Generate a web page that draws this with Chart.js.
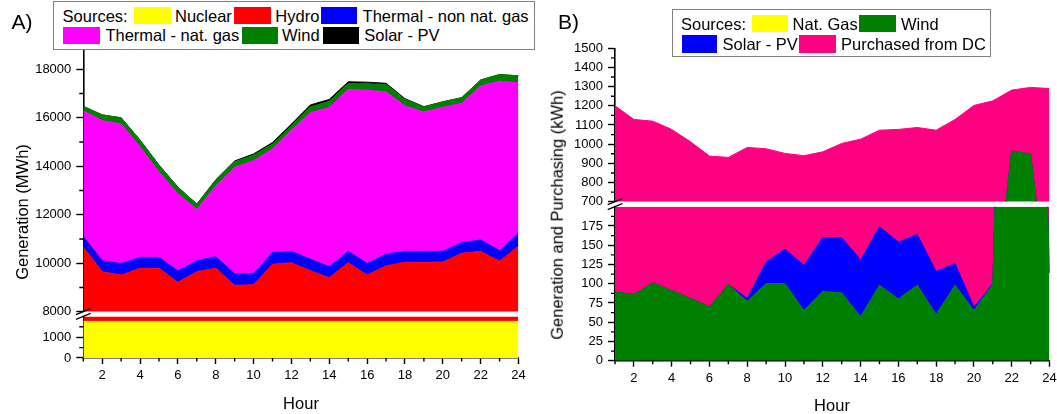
<!DOCTYPE html>
<html><head><meta charset="utf-8"><title>Generation and purchasing</title>
<script src="https://cdn.jsdelivr.net/npm/chart.js@4.4.1/dist/chart.umd.min.js"></script>
<style>
html,body{margin:0;padding:0;background:#fff;}
#wrap{position:relative;width:1057px;height:414px;overflow:hidden;font-family:'Liberation Sans',Arial,sans-serif;color:#000;}
#wrap canvas{position:absolute;}
.t{position:absolute;white-space:nowrap;line-height:1;font-size:16.5px;}
.sw{position:absolute;}
.box{position:absolute;border:1px solid #808080;background:#fff;box-sizing:border-box;}
.rot{position:absolute;white-space:nowrap;line-height:1;font-size:16.5px;transform:translate(-50%,-50%) rotate(-90deg);}
</style></head><body>
<div id="wrap">
<canvas id="aUp" width="530" height="320" style="left:0;top:0;width:530px;height:320px"></canvas>
<canvas id="aLo" width="530" height="114" style="left:0;top:300px;width:530px;height:114px"></canvas>
<canvas id="bUp" width="527" height="215" style="left:530px;top:0;width:527px;height:215px"></canvas>
<canvas id="bLo" width="527" height="224" style="left:530px;top:190px;width:527px;height:224px"></canvas>

<div class="t" style="left:11.5px;top:10.5px;font-size:21px">A)</div>
<div class="t" style="left:558px;top:10.5px;font-size:21px">B)</div>

<div class="box" style="left:53px;top:1px;width:482px;height:49px"></div>
<div class="t" style="left:62.6px;top:7.6px">Sources:</div>
<div class="sw" style="left:134.3px;top:7.3px;width:36.7px;height:16.7px;background:#FFFF00"></div>
<div class="t" style="left:175px;top:7.6px">Nuclear</div>
<div class="sw" style="left:234.3px;top:7.3px;width:36.7px;height:16.7px;background:#FF0000"></div>
<div class="t" style="left:275.3px;top:7.6px">Hydro</div>
<div class="sw" style="left:320.7px;top:7.3px;width:36.7px;height:16.7px;background:#0000FF"></div>
<div class="t" style="left:362.6px;top:7.6px">Thermal - non nat. gas</div>
<div class="sw" style="left:63.3px;top:26.7px;width:36.7px;height:17.3px;background:#FF00FF"></div>
<div class="t" style="left:105.4px;top:27.2px">Thermal - nat. gas</div>
<div class="sw" style="left:241.7px;top:26.7px;width:36.7px;height:17.3px;background:#008000"></div>
<div class="t" style="left:282px;top:27.2px">Wind</div>
<div class="sw" style="left:323.3px;top:26.7px;width:36px;height:17.3px;background:#000000"></div>
<div class="t" style="left:364.3px;top:27.2px">Solar - PV</div>

<div class="box" style="left:671.5px;top:9.3px;width:319px;height:48px"></div>
<div class="t" style="left:681px;top:15.6px">Sources:</div>
<div class="sw" style="left:751.7px;top:15px;width:36px;height:17.3px;background:#FFFF00"></div>
<div class="t" style="left:792.6px;top:15.6px">Nat. Gas</div>
<div class="sw" style="left:859px;top:15px;width:37px;height:17.3px;background:#008000"></div>
<div class="t" style="left:901px;top:15.6px">Wind</div>
<div class="sw" style="left:681.7px;top:35px;width:35.6px;height:18.3px;background:#0000FF"></div>
<div class="t" style="left:722.6px;top:36.1px">Solar - PV</div>
<div class="sw" style="left:799px;top:35px;width:37px;height:18.3px;background:#FF0080"></div>
<div class="t" style="left:841px;top:36.1px">Purchased from DC</div>

<div class="rot" style="left:21.7px;top:211.7px">Generation (MWh)</div>
<div class="rot" style="left:557px;top:215px">Generation and Purchasing (kWh)</div>
<div class="t" style="left:301px;top:394.9px;transform:translateX(-50%)">Hour</div>
<div class="t" style="left:832px;top:397.4px;transform:translateX(-50%)">Hour</div>
</div>
<script>
// ---------- data ----------
const hours = [1,2,3,4,5,6,7,8,9,10,11,12,13,14,15,16,17,18,19,20,21,22,23,24];
const xTickLabels = [2,4,6,8,10,12,14,16,18,20,22,24];
const xMinorTicks = [1,3,5,7,9,11,13,15,17,19,21,23];

// Panel A (MWh)
const nuclearA      = [1760,1760,1760,1760,1760,1760,1760,1760,1760,1760,1760,1760,1760,1760,1760,1760,1760,1760,1760,1760,1760,1760,1760,1760];
const hydroA        = [8900,7890,7750,8030,8030,7450,7890,8030,7330,7350,8200,8260,7930,7640,8260,7750,8130,8280,8280,8290,8650,8730,8320,8950];
const thermalOtherA = [440,450,480,450,450,470,450,480,470,470,480,470,470,450,470,480,480,450,450,440,440,470,440,520];
const thermalGasA   = [5190,5780,5750,4560,3530,3180,2120,2920,4400,4650,4270,5000,6050,6580,6680,7150,6700,6000,5750,5940,5750,6350,6990,6210];
const windA         = [180,240,260,280,280,280,220,240,230,230,210,180,240,250,245,270,305,270,210,230,230,250,275,290];
const solarA        = [0,0,0,0,0,0,0,10,30,50,60,70,80,80,70,60,50,30,10,0,0,0,0,0];

const yTicksAUpper = [8000,10000,12000,14000,16000,18000];
const yMinorAUpper = [9000,11000,13000,15000,17000];
const yTicksALower = [0,1000];
const yMinorALower = [500,1500];

// Panel B (kWh)
const natGasB    = [0,0,0,0,0,0,0,0,0,0,0,0,0,0,0,0,0,0,0,0,0,0,0,0];
const windB      = [89,86,101,91,81,70,99,77,100,100,65,90,88,57,98,80,98,60,98,65,99,964,948,114];
const solarB     = [0,0,0,0,0,0,0,4,28,45,59,70,72,74,76,74,66,56,28,5,1,0,0,0];
const purchasedB = [1111,1043,1019,986,931,868,832,902,848,807,816,800,844,895,899,923,923,957,1003,1132,1126,318,348,1176];

const yTicksBUpper = [700,800,900,1000,1100,1200,1300,1400,1500];
const yMinorBUpper = [750,850,950,1050,1150,1250,1350,1450];
const yTicksBLower = [0,25,50,75,100,125,150,175];
const yMinorBLower = [12.5,37.5,62.5,87.5,112.5,137.5,162.5,187.5];

// ---------- helpers ----------
const FONT = "'Liberation Sans', Arial, sans-serif";
Chart.defaults.font.family = FONT;

function area(label, data, color, first, bw) {
  return {label, data, backgroundColor: color, borderColor: color,
    borderWidth: bw === undefined ? 1 : bw, fill: first ? 'origin' : '-1',
    pointRadius: 0, tension: 0};
}
function datasetsA() {
  return [
    area('Nuclear', nuclearA, '#FFFF00', true),
    area('Hydro', hydroA, '#FF0000'),
    area('Thermal - non nat. gas', thermalOtherA, '#0000FF'),
    area('Thermal - nat. gas', thermalGasA, '#FF00FF'),
    area('Wind', windA, '#008000'),
    area('Solar - PV', solarA, '#000000')
  ];
}
function datasetsB() {
  return [
    area('Nat. Gas', natGasB, '#FFFF00', true, 0),
    area('Wind', windB, '#008000'),
    area('Solar - PV', solarB, '#0000FF'),
    area('Purchased from DC', purchasedB, '#FF0080')
  ];
}
const plain = v => String(v);
function yScale(min, max, ticks, width) {
  return {
    type: 'linear', min, max, stacked: true,
    afterBuildTicks: s => { s.ticks = ticks.map(v => ({value: v})); },
    afterFit: s => { s.width = width; s.paddingTop = 0; s.paddingBottom = 0; },
    border: {display: true, color: '#000', width: 1.6},
    grid: {display: true, drawOnChartArea: false, drawTicks: true, tickLength: 7, tickWidth: 1.4, tickColor: '#000'},
    ticks: {color: '#000', font: {family: FONT, size: 13}, padding: 5, autoSkip: false, callback: plain}
  };
}
function xScale(show, height) {
  return {
    type: 'linear', min: 1, max: 24, display: show,
    afterBuildTicks: s => { s.ticks = xTickLabels.map(v => ({value: v})); },
    afterFit: s => { if (show) s.height = height; s.paddingLeft = 0; s.paddingRight = 0; },
    border: {display: true, color: '#000', width: 1.6},
    grid: {display: true, drawOnChartArea: false, drawTicks: true, tickLength: 6, tickWidth: 1.4, tickColor: '#000'},
    ticks: {color: '#000', font: {family: FONT, size: 13}, padding: 4, autoSkip: false, maxRotation: 0, minRotation: 0, callback: plain}
  };
}
const axisDeco = {
  id: 'axisDeco',
  afterDraw(chart, args, o) {
    const ctx = chart.ctx, ca = chart.chartArea;
    const xs = chart.scales.x, ys = chart.scales.y;
    ctx.save();
    ctx.strokeStyle = '#000'; ctx.lineWidth = 1.4;
    ctx.beginPath();
    (o.yMinor || []).forEach(v => { const p = ys.getPixelForValue(v); ctx.moveTo(ca.left - 4, p); ctx.lineTo(ca.left, p); });
    (o.xMinor || []).forEach(v => { const p = xs.getPixelForValue(v); ctx.moveTo(p, ca.bottom); ctx.lineTo(p, ca.bottom + 3.5); });
    ctx.stroke();
    if (o.gap) {
      ctx.lineWidth = 1.3;
      ctx.beginPath();
      [ca.top - o.gap, ca.top].forEach(y => { ctx.moveTo(ca.left - 7.3, y + 3); ctx.lineTo(ca.left + 7.3, y - 3); });
      ctx.stroke();
    }
    ctx.restore();
  }
};
function make(id, datasets, x, y, padding, deco) {
  return new Chart(document.getElementById(id), {
    type: 'line',
    data: {labels: hours, datasets},
    options: {
      responsive: false, animation: false, devicePixelRatio: 1, events: [],
      layout: {padding},
      scales: {x, y},
      plugins: {legend: {display: false}, tooltip: {enabled: false}, title: {display: false}, axisDeco: deco}
    },
    plugins: [axisDeco]
  });
}

// Panel A
make('aUp', datasetsA(), xScale(false), yScale(8000, 19000, yTicksAUpper, 83.3),
  {left: 0, top: 45.1, right: 11.5, bottom: 8.3}, {yMinor: yMinorAUpper});
make('aLo', datasetsA(), xScale(true, 56), yScale(0, 2000, yTicksALower, 83.3),
  {left: 0, top: 16.4, right: 11.5, bottom: 0}, {yMinor: yMinorALower, xMinor: xMinorTicks, gap: 4.7});

// Panel B
make('bUp', datasetsB(), xScale(false), yScale(700, 1500, yTicksBUpper, 85),
  {left: 0, top: 48.3, right: 7.5, bottom: 13.3}, {yMinor: yMinorBUpper});
make('bLo', datasetsB(), xScale(true, 53.3), yScale(0, 200, yTicksBLower, 85),
  {left: 0, top: 16.7, right: 7.5, bottom: 0}, {yMinor: yMinorBLower, xMinor: xMinorTicks, gap: 5});
</script>
</body></html>
